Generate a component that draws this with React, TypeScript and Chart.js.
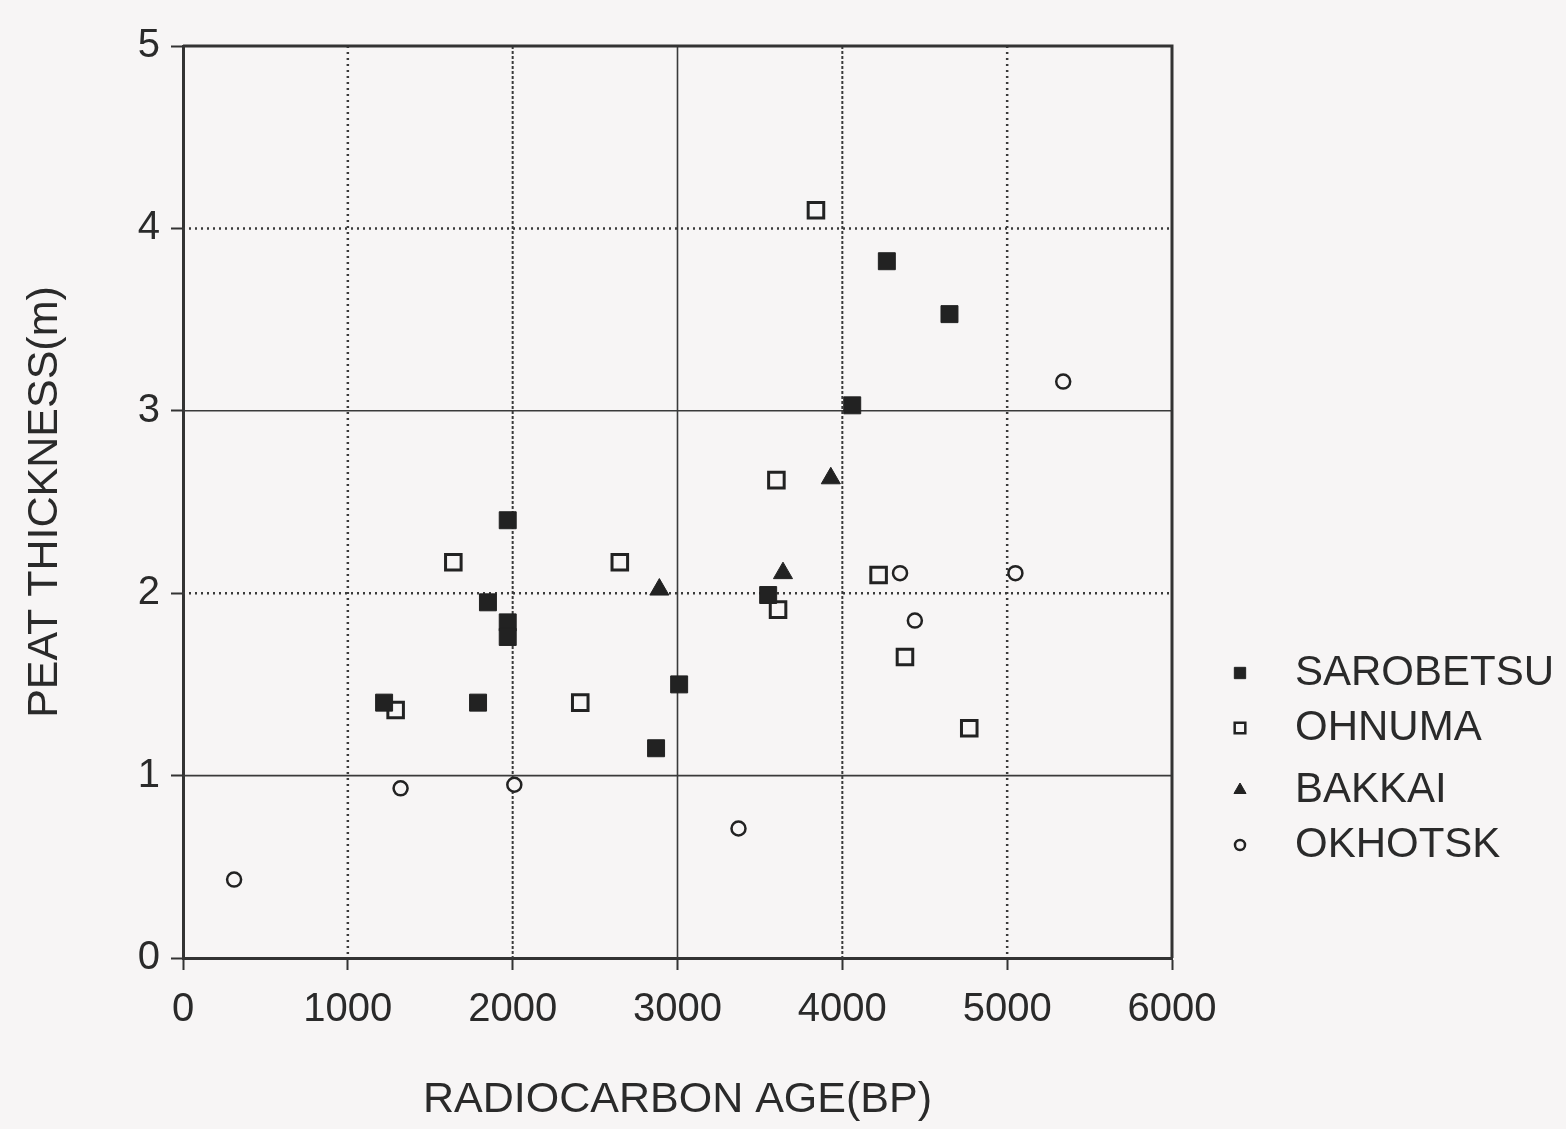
import React, { useEffect, useRef } from "react";
import { Chart, registerables } from "chart.js";
import { drawPoint } from "chart.js/helpers";

Chart.register(...registerables);

// ---- data ----
const seriesNames = ["SAROBETSU", "OHNUMA", "BAKKAI", "OKHOTSK"];

const sarobetsuAge = [1220, 1790, 1850, 1970, 1970, 1970, 2870, 3010, 3550, 4060, 4270, 4650];
const sarobetsuThk = [1.4, 1.4, 1.95, 2.4, 1.84, 1.76, 1.15, 1.5, 1.99, 3.03, 3.82, 3.53];

const ohnumaAge = [1290, 1640, 2410, 2650, 3600, 3610, 3840, 4220, 4380, 4770];
const ohnumaThk = [1.36, 2.17, 1.4, 2.17, 2.62, 1.91, 4.1, 2.1, 1.65, 1.26];

const bakkaiAge = [2890, 3640, 3930];
const bakkaiThk = [2.02, 2.11, 2.63];

const okhotskAge = [310, 1320, 2010, 3370, 4350, 4440, 5050, 5340];
const okhotskThk = [0.43, 0.93, 0.95, 0.71, 2.11, 1.85, 2.11, 3.16];

const xTicks = [0, 1000, 2000, 3000, 4000, 5000, 6000];
const yTicks = [0, 1, 2, 3, 4, 5];

const xTitle = "RADIOCARBON AGE(BP)";
const yTitle = "PEAT THICKNESS(m)";

// ---- styling ----
const BG = "#f7f5f5";
const INK = "#2a2a2a";
const FONT = "'Liberation Sans', Arial, Helvetica, sans-serif";

const toPoints = (xs: number[], ys: number[]) => xs.map((x, i) => ({ x, y: ys[i] }));

const bgPlugin = {
  id: "bg",
  beforeDraw(chart: any) {
    const { ctx, width, height } = chart;
    ctx.save();
    ctx.fillStyle = BG;
    ctx.fillRect(0, 0, width, height);
    ctx.restore();
  },
};

const gridPlugin = {
  id: "customGrid",
  beforeDatasetsDraw(chart: any) {
    const { ctx, chartArea } = chart;
    const xs = chart.scales.x;
    const ys = chart.scales.y;
    ctx.save();
    ctx.strokeStyle = "#3a3a3a";
    // vertical lines
    xTicks.forEach((v) => {
      if (v === 0 || v === 6000) return;
      const px = xs.getPixelForValue(v);
      if (v === 1000 || v === 5000) {
        ctx.setLineDash([2, 4]);
        ctx.lineWidth = 2.5;
      } else if (v === 3000) {
        ctx.setLineDash([]);
        ctx.lineWidth = 1.6;
      } else {
        ctx.setLineDash([3, 2]);
        ctx.lineWidth = 2;
      }
      ctx.beginPath();
      ctx.moveTo(px, chartArea.top);
      ctx.lineTo(px, chartArea.bottom);
      ctx.stroke();
    });
    // horizontal lines
    yTicks.forEach((v) => {
      if (v === 0 || v === 5) return;
      const py = ys.getPixelForValue(v);
      if (v === 2 || v === 4) {
        ctx.setLineDash([2, 4]);
        ctx.lineWidth = 2.5;
      } else {
        ctx.setLineDash([]);
        ctx.lineWidth = 1.6;
      }
      ctx.beginPath();
      ctx.moveTo(chartArea.left, py);
      ctx.lineTo(chartArea.right, py);
      ctx.stroke();
    });
    // top and right frame
    ctx.setLineDash([]);
    ctx.lineWidth = 3;
    ctx.strokeStyle = "#333";
    ctx.beginPath();
    ctx.moveTo(chartArea.left, chartArea.top);
    ctx.lineTo(chartArea.right, chartArea.top);
    ctx.lineTo(chartArea.right, chartArea.bottom);
    ctx.stroke();
    ctx.restore();
  },
};

const legendPlugin = {
  id: "customLegend",
  afterDraw(chart: any) {
    const { ctx } = chart;
    const symX = 1240;
    const textX = 1295;
    const rowY = [673, 728, 790, 845];
    const symRadius = [8, 7.5, 7, 5];
    ctx.save();
    chart.data.datasets.forEach((ds: any, i: number) => {
      const y = rowY[i];
      ctx.fillStyle = ds.backgroundColor;
      ctx.strokeStyle = ds.borderColor;
      ctx.lineWidth = i === 1 ? 2.5 : i === 3 ? 2.5 : 1;
      drawPoint(ctx, { pointStyle: ds.pointStyle, radius: symRadius[i], borderWidth: ctx.lineWidth, rotation: 0 }, symX, y);
      ctx.fillStyle = INK;
      ctx.font = `42px ${FONT}`;
      ctx.textBaseline = "middle";
      ctx.textAlign = "left";
      ctx.fillText(ds.label, textX, y);
    });
    ctx.restore();
  },
};

export default function App() {
  const canvasRef = useRef<HTMLCanvasElement | null>(null);

  useEffect(() => {
    const canvas = canvasRef.current;
    if (!canvas) return;
    const chart = new Chart(canvas, {
      type: "scatter",
      data: {
        datasets: [
          {
            label: seriesNames[0],
            data: toPoints(sarobetsuAge, sarobetsuThk),
            pointStyle: "rect",
            pointRadius: 12,
            backgroundColor: "#222",
            borderColor: "#222",
            borderWidth: 1,
          },
          {
            label: seriesNames[1],
            data: toPoints(ohnumaAge, ohnumaThk),
            pointStyle: "rect",
            pointRadius: 11,
            backgroundColor: BG,
            borderColor: "#222",
            borderWidth: 3,
          },
          {
            label: seriesNames[2],
            data: toPoints(bakkaiAge, bakkaiThk),
            pointStyle: "triangle",
            pointRadius: 11,
            backgroundColor: "#222",
            borderColor: "#222",
            borderWidth: 1,
          },
          {
            label: seriesNames[3],
            data: toPoints(okhotskAge, okhotskThk),
            pointStyle: "circle",
            pointRadius: 7,
            backgroundColor: BG,
            borderColor: "#222",
            borderWidth: 2.5,
          },
        ] as any,
      },
      options: {
        animation: false,
        responsive: false,
        devicePixelRatio: 1,
        layout: { padding: { top: 46, right: 394, bottom: 0, left: 0 } },
        plugins: {
          legend: { display: false },
          tooltip: { enabled: false },
        },
        scales: {
          x: {
            type: "linear",
            min: 0,
            max: 6000,
            afterBuildTicks: (s: any) => {
              s.ticks = xTicks.map((v) => ({ value: v }));
            },
            afterFit: (s: any) => {
              s.height = 171;
            },
            ticks: {
              font: { size: 40, family: FONT },
              color: INK,
              padding: 16,
              maxRotation: 0,
              callback: (v: any) => String(v),
            },
            grid: {
              drawOnChartArea: false,
              drawTicks: true,
              tickLength: 12,
              tickWidth: 2,
              tickColor: "#333",
            },
            border: { display: true, color: "#333", width: 3 },
            title: {
              display: true,
              text: xTitle,
              color: INK,
              font: { size: 43, family: FONT },
              padding: { top: 0, bottom: 3 },
            },
          },
          y: {
            type: "linear",
            min: 0,
            max: 5,
            afterBuildTicks: (s: any) => {
              s.ticks = yTicks.map((v) => ({ value: v }));
            },
            afterFit: (s: any) => {
              s.width = 183;
            },
            ticks: {
              font: { size: 40, family: FONT },
              color: INK,
              padding: 11,
              callback: (v: any) => String(v),
            },
            grid: {
              drawOnChartArea: false,
              drawTicks: true,
              tickLength: 12,
              tickWidth: 2,
              tickColor: "#333",
            },
            border: { display: true, color: "#333", width: 3 },
            title: {
              display: true,
              text: yTitle,
              color: INK,
              font: { size: 43, family: FONT },
              padding: { top: 19, bottom: 0 },
            },
          },
        },
      } as any,
      plugins: [bgPlugin, gridPlugin, legendPlugin],
    });
    return () => chart.destroy();
  }, []);

  return (
    <div style={{ position: "absolute", left: 0, top: 0, width: 1566, height: 1129, background: BG }}>
      <canvas ref={canvasRef} width={1566} height={1129} style={{ display: "block" }} />
    </div>
  );
}
